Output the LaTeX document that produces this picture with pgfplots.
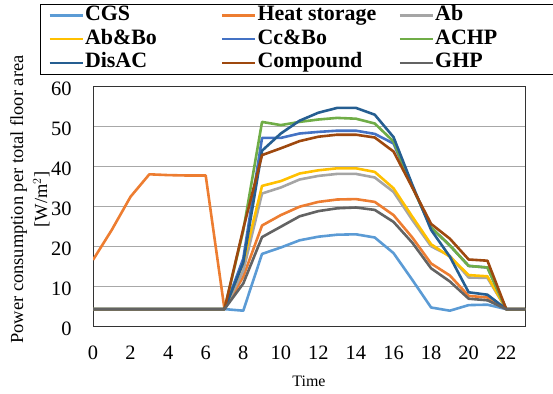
\documentclass[border=0pt]{standalone}
\usepackage{pgfplots}
\pgfplotsset{compat=1.18}
\usepackage{fontspec}
\setmainfont{Liberation Serif}
\definecolor{cCGS}{HTML}{5B9BD5}
\definecolor{cHS}{HTML}{ED7D31}
\definecolor{cAb}{HTML}{A5A5A5}
\definecolor{cAbBo}{HTML}{FFC000}
\definecolor{cCcBo}{HTML}{4472C4}
\definecolor{cACHP}{HTML}{70AD47}
\definecolor{cDis}{HTML}{255E91}
\definecolor{cComp}{HTML}{9E480E}
\definecolor{cGHP}{HTML}{636363}
\definecolor{cGrid}{HTML}{A8A8A8}
\newcommand{\la}[1]{\makebox[135bp][l]{#1}}
\newcommand{\lb}[1]{\makebox[140bp][l]{#1}}
\newcommand{\lc}[1]{\makebox[120bp][l]{#1}}
\begin{document}
\begin{tikzpicture}
\begin{axis}[
  at={(93bp,67.3bp)}, anchor=south west,
  scale only axis, width=432bp, height=240bp,
  xmin=0, xmax=23, ymin=0, ymax=60,
  xtick={0,2,...,22}, ytick={0,10,...,60},
  major tick length=0,
  ymajorgrids, grid style={cGrid, line width=1.4bp},
  axis line style={black!80, line width=0.9bp},
  /pgf/number format/assume math mode=true,
  tick label style={font=\fontsize{20.5}{23}\selectfont},
  xticklabel style={yshift=-16bp},
  yticklabel style={xshift=-18bp, yshift=-2bp},
  xlabel={Time},
  xlabel style={font=\fontsize{16}{19}\selectfont, at={(axis description cs:0.5,-0.226)}, anchor=center},
  ylabel={Power consumption per total floor area\\{[W/m$^2$]}},
  ylabel style={font=\fontsize{18.5}{24}\selectfont, align=center, at={(axis description cs:-0.146,0.53)}, anchor=center},
  legend columns=3,
  legend image code/.code={\draw[#1, line width=2.6bp] (0bp,0bp) -- (33bp,0bp);},
  legend style={at={(axis description cs:-0.1227,1.345)}, anchor=north west,
    draw=black, line width=0.9bp, inner xsep=8bp, inner ysep=0bp,
    font=\fontsize{22}{24}\selectfont\bfseries,
    nodes={inner sep=1bp, text height=15bp, text depth=5bp},
    column sep=0bp, row sep=1.8bp},
  every axis plot/.append style={line width=2.6bp, line join=round},
]
\addplot[cCGS] coordinates {(0,4.4)(1,4.4)(2,4.4)(3,4.4)(4,4.4)(5,4.4)(6,4.4)(7,4.4)(8,4.0)(9,18.2)(10,19.8)(11,21.6)(12,22.5)(13,23.0)(14,23.1)(15,22.3)(16,18.4)(17,11.7)(18,4.8)(19,4.0)(20,5.4)(21,5.5)(22,4.4)(23,4.4)};
\addlegendentry{\la{CGS}}
\addplot[cHS] coordinates {(0,16.7)(1,24.2)(2,32.5)(3,38.1)(4,37.9)(5,37.8)(6,37.8)(7,4.4)(8,12.5)(9,25.3)(10,27.9)(11,30.0)(12,31.2)(13,31.8)(14,31.9)(15,31.2)(16,27.9)(17,22.3)(18,15.8)(19,12.8)(20,7.7)(21,7.3)(22,4.4)(23,4.4)};
\addlegendentry{\lb{Heat storage}}
\addplot[cAb] coordinates {(0,4.4)(1,4.4)(2,4.4)(3,4.4)(4,4.4)(5,4.4)(6,4.4)(7,4.4)(8,14.0)(9,33.3)(10,34.8)(11,36.8)(12,37.7)(13,38.2)(14,38.2)(15,37.3)(16,33.7)(17,26.7)(18,20.1)(19,17.7)(20,12.3)(21,12.2)(22,4.4)(23,4.4)};
\addlegendentry{\lc{Ab}}
\addplot[cAbBo] coordinates {(0,4.4)(1,4.4)(2,4.4)(3,4.4)(4,4.4)(5,4.4)(6,4.4)(7,4.4)(8,16.0)(9,35.2)(10,36.4)(11,38.3)(12,39.1)(13,39.6)(14,39.6)(15,38.7)(16,34.6)(17,27.5)(18,20.6)(19,17.5)(20,12.9)(21,12.6)(22,4.4)(23,4.4)};
\addlegendentry{\la{Ab\&Bo}}
\addplot[cCcBo] coordinates {(0,4.4)(1,4.4)(2,4.4)(3,4.4)(4,4.4)(5,4.4)(6,4.4)(7,4.4)(8,17.0)(9,47.2)(10,47.2)(11,48.3)(12,48.7)(13,49.0)(14,49.0)(15,48.2)(16,45.8)(17,35.0)(18,24.8)(19,20.3)(20,15.2)(21,14.8)(22,4.4)(23,4.4)};
\addlegendentry{\lb{Cc\&Bo}}
\addplot[cACHP] coordinates {(0,4.4)(1,4.4)(2,4.4)(3,4.4)(4,4.4)(5,4.4)(6,4.4)(7,4.4)(8,24.0)(9,51.2)(10,50.4)(11,51.2)(12,51.8)(13,52.2)(14,52.0)(15,50.8)(16,46.3)(17,35.0)(18,24.8)(19,20.3)(20,15.2)(21,14.8)(22,4.4)(23,4.4)};
\addlegendentry{\lc{ACHP}}
\addplot[cDis] coordinates {(0,4.4)(1,4.4)(2,4.4)(3,4.4)(4,4.4)(5,4.4)(6,4.4)(7,4.4)(8,16.0)(9,44.0)(10,48.3)(11,51.5)(12,53.5)(13,54.7)(14,54.7)(15,53.0)(16,47.4)(17,35.5)(18,24.2)(19,17.5)(20,8.6)(21,8.0)(22,4.4)(23,4.4)};
\addlegendentry{\la{DisAC}}
\addplot[cComp] coordinates {(0,4.4)(1,4.4)(2,4.4)(3,4.4)(4,4.4)(5,4.4)(6,4.4)(7,4.4)(8,24.5)(9,42.9)(10,44.6)(11,46.4)(12,47.5)(13,48.0)(14,48.0)(15,47.3)(16,43.8)(17,34.8)(18,25.7)(19,22.0)(20,16.8)(21,16.5)(22,4.4)(23,4.4)};
\addlegendentry{\lb{Compound}}
\addplot[cGHP] coordinates {(0,4.4)(1,4.4)(2,4.4)(3,4.4)(4,4.4)(5,4.4)(6,4.4)(7,4.4)(8,10.8)(9,22.4)(10,25.0)(11,27.6)(12,28.9)(13,29.6)(14,29.8)(15,29.2)(16,26.2)(17,21.0)(18,14.6)(19,11.3)(20,7.0)(21,6.6)(22,4.4)(23,4.4)};
\addlegendentry{\lc{GHP}}
\end{axis}
\pgfresetboundingbox
\path (0,0) rectangle (553bp,394bp);
\end{tikzpicture}
\end{document}
